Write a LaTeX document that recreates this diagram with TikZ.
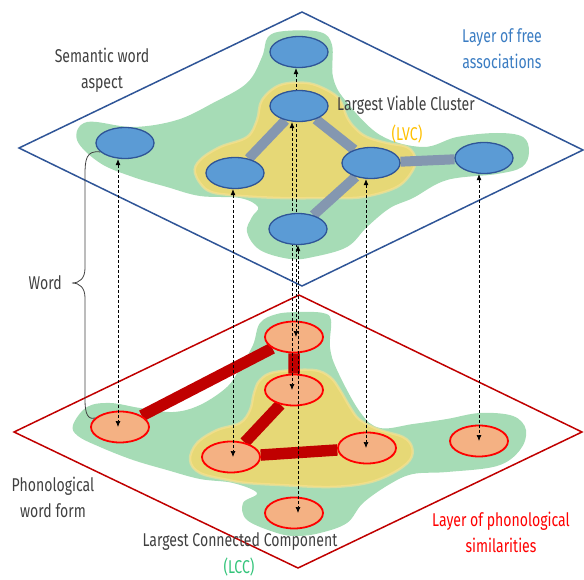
\documentclass[tikz,border=0pt]{standalone}
\usepackage{fontspec}
\setmainfont{Fira Sans}[FakeStretch=0.76]
\usetikzlibrary{positioning, arrows.meta, shapes.geometric}

\definecolor{semfill}{HTML}{5B9BD5}
\definecolor{semline}{HTML}{2F5597}
\definecolor{phonfill}{HTML}{F4B183}
\definecolor{phonline}{HTML}{FF0000}
\definecolor{phonlayer}{HTML}{C00000}
\definecolor{lccgreen}{HTML}{A6DCB6}
\definecolor{lvcyellow}{HTML}{E6D876}
\definecolor{lvchalo}{HTML}{FCE292}
\definecolor{semedge}{HTML}{8497B0}
\definecolor{textgray}{HTML}{404040}
\definecolor{textblue}{HTML}{3A7CC2}
\definecolor{textorange}{HTML}{FFC000}
\definecolor{textgreen}{HTML}{33C47A}

\pgfdeclarelayer{back}
\pgfdeclarelayer{front}
\pgfsetlayers{back,main,front}

\tikzset{
    semword/.style={ellipse, draw=semline, fill=semfill, line width=1.3pt,
                    minimum width=58pt, minimum height=31pt, inner sep=0pt},
    phonword/.style={ellipse, draw=phonline, fill=phonfill, line width=1.8pt,
                     minimum width=58pt, minimum height=31pt, inner sep=0pt},
    lvc/.style={fill=lvcyellow, draw=lvchalo, draw opacity=0.6, line width=2.5pt, line join=round},
    lbl/.style={font=\fontsize{18.5}{26}\selectfont, text=textgray, align=center, inner sep=0pt},
    link/.style={dash pattern=on 3pt off 2pt, line width=0.7pt,
                 {Latex[length=6pt,width=5pt]}-{Latex[length=6pt,width=5pt]}}
}

\begin{document}
\begin{tikzpicture}[x=1pt, y=-1pt]
\useasboundingbox (0,0) rectangle (584,580);
        \begin{pgfonlayer}{back}
        % Draw the two layers
        \draw[semline, line width=1.5pt] (19,148) -- (302,12) -- (583,150) -- (302,286) -- cycle;
        \draw[phonlayer, line width=1.5pt] (14,432) -- (299,295) -- (582,432) -- (298,568) -- cycle;
        % Connected components and viable clusters
        \fill[lccgreen] plot[smooth cycle, tension=0.6] coordinates {(77,140) (87,122) (133,127) (177,120)
            (213,103) (247,83) (262,57) (268,37) (285,31) (320,32) (332,45) (333,77) (345,100) (380,135)
            (423,147) (457,137) (497,133) (523,137) (529,152) (522,167) (497,174) (447,180) (413,198)
            (390,208) (367,227) (347,247) (313,257) (290,259) (260,250) (247,232) (252,217) (258,207)
            (240,198) (200,196) (167,187) (133,177) (100,163)};
        \filldraw[lvc] plot[smooth cycle, tension=0.6] coordinates {(195,173) (200,160) (220,147)
            (247,137) (257,120) (262,100) (280,85) (307,83) (327,90) (340,100) (347,117) (355,128)
            (367,137) (387,143) (407,147) (415,157) (413,170) (397,187) (363,197) (330,198) (280,198)
            (230,195) (207,190)};
        \fill[lccgreen] plot[smooth cycle, tension=0.6] coordinates {(73,425) (87,407) (110,403)
            (140,408) (173,412) (200,405) (227,387) (240,368) (253,345) (260,323) (277,314) (300,312)
            (323,313) (331,320) (330,347) (337,370) (360,412) (380,428) (413,424) (447,419) (480,413)
            (513,416) (526,430) (520,450) (497,466) (447,472) (413,474) (390,484) (363,503) (347,523)
            (320,533) (297,536) (277,533) (247,520) (243,503) (257,493) (233,483) (200,479) (167,470)
            (133,460) (100,447) (78,436)};
        \filldraw[lvc] plot[smooth cycle, tension=0.6] coordinates {(190,460) (197,443) (217,430)
            (240,423) (250,410) (254,393) (260,380) (275,372) (313,370) (330,377) (340,390) (350,407)
            (360,420) (380,430) (403,437) (412,447) (410,460) (393,473) (367,483) (330,487) (280,485)
            (247,483) (228,480) (200,473)};
        \end{pgfonlayer}

        % Draw the words of the semantic layer
        \begin{pgfonlayer}{front}
        \node[semword] at (125,143) (s1) {};
        \node[semword] at (299,52)  (s2) {};
        \node[semword] at (299,106) (s3) {};
        \node[semword] at (235,173) (s4) {};
        \node[semword] at (371,163) (s5) {};
        \node[semword] at (484,158) (s6) {};
        \node[semword] at (298,229) (s7) {};
        \end{pgfonlayer}
        % Draw the words of the phonological layer
        \node[phonword] at (120,427) (p1) {};
        \node[phonword] at (294,337) (p2) {};
        \node[phonword] at (294,390) (p3) {};
        \node[phonword] at (231,457) (p4) {};
        \node[phonword] at (367,448) (p5) {};
        \node[phonword] at (479,441) (p6) {};
        \node[phonword] at (294,513) (p7) {};

        % Connect the words
        \begin{pgfonlayer}{back}
        \draw[semedge, line width=10pt]
            (s3) -- (s4)  (s3) -- (s5)  (s5) -- (s6)  (s5) -- (s7);
        \draw[phonlayer, line width=11.5pt]
            (p1) -- (p2)  (p2) -- (p3)  (p3) -- (p4)  (p4) -- (p5);
        \end{pgfonlayer}

        % Link both aspects of each word
        \foreach \n/\dx in {1/-7, 2/-3, 3/-7, 4/-2, 5/-5, 6/-5, 7/0}{
            \coordinate (top\n) at ([xshift=\dx pt]s\n.south);
            \draw[link] (top\n) -- (top\n |- p\n.center);
        }

        % Word brace
        \coordinate (tip) at (72,283);
        \draw[textgray, line width=0.8pt]
            (s1.200) .. controls (86,150) and (85,160) .. (85,175) -- (85,268)
            .. controls (85,278) and (80,283) .. (tip)
            .. controls (80,283) and (85,288) .. (85,298) -- (85,400)
            .. controls (85,414) and (88,420) .. (p1.160);

        % Labels
        \node[lbl, left=10pt of tip] (word) {Word};
        \node[lbl] at (102,70)  (semaspect) {Semantic word\\aspect};
        \node[lbl] at (53,497)  (phonform)  {Phonological\\word form};
        \node[lbl] at (406,105) (lvclabel)  {Largest Viable Cluster};
        \node[lbl, text=textorange] at (407,134) (lvcshort) {(LVC)};
        \node[lbl] at (240,542) (lcclabel)  {Largest Connected Component};
        \node[lbl, text=textgreen] at (239,567) (lccshort) {(LCC)};
        \node[lbl, text=textblue] at (502,49)  (semlayer)  {Layer of free\\associations};
        \node[lbl, text=phonline] at (501,532) (phonlayer) {Layer of phonological\\similarities};
\end{tikzpicture}
\end{document}
